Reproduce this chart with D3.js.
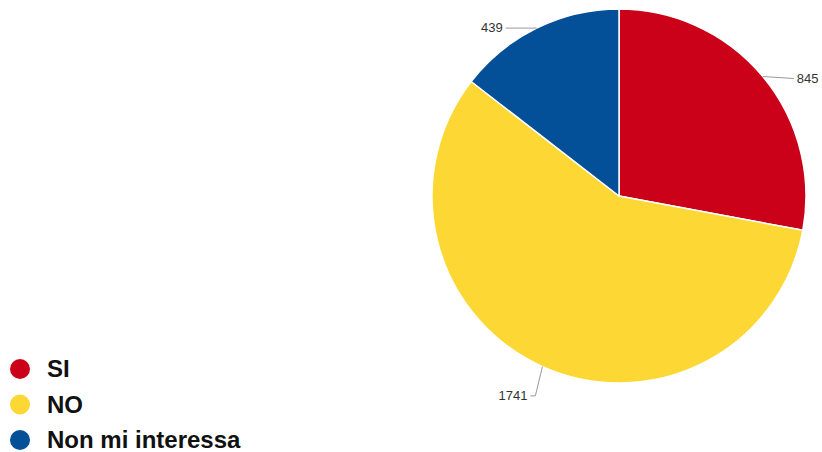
<!DOCTYPE html>
<html><head><meta charset="utf-8">
<script src="https://cdn.jsdelivr.net/npm/d3@7"></script>
<style>
html,body{margin:0;padding:0;background:#fff;}
svg{display:block;}
</style></head>
<body><svg id="c" width="822" height="452"></svg>
<script>
const categories = ["SI", "NO", "Non mi interessa"];
const values = [845, 1741, 439];
const colors = ["#CB0019", "#FDD835", "#034F98"];

const W = 822, H = 452;
const svg = d3.select("#c");
const cx = 619, cy = 196, r = 187;

const data = categories.map((c, i) => ({cat: c, value: values[i], color: colors[i]}));
const pie = d3.pie().value(d => d.value).sort(null);
const arcs = pie(data);
const arc = d3.arc().innerRadius(0).outerRadius(r);

const g = svg.append("g").attr("transform", `translate(${cx},${cy})`);
g.selectAll("path.slice").data(arcs).join("path")
  .attr("class", "slice")
  .attr("d", arc)
  .attr("fill", d => d.data.color)
  .attr("stroke", "#fff")
  .attr("stroke-width", 1.5)
  .attr("stroke-linejoin", "round");

// label lines
arcs.forEach(a => {
  const m = (a.startAngle + a.endAngle) / 2;
  const sx = Math.sin(m), cyy = -Math.cos(m);
  const p0 = [r * sx, r * cyy];
  const lower = cyy > 0.5;
  const ext = lower ? 32 : 0;
  const p1 = [(r + ext) * sx + (lower ? 6 : 0), (r + ext) * cyy];
  const side = sx >= 0 ? 1 : -1;
  const hl = lower ? 5 : 31;
  const p2 = [p1[0] + side * hl, p1[1] + (side > 0 && !lower ? 2 : 0)];
  g.append("polyline")
    .attr("points", [p0, p1, p2].map(p => p.join(",")).join(" "))
    .attr("fill", "none")
    .attr("stroke", "#999")
    .attr("stroke-width", 1);
  g.append("text")
    .attr("x", p2[0] + side * 3)
    .attr("y", p2[1])
    .attr("dy", "0.32em")
    .attr("text-anchor", side > 0 ? "start" : "end")
    .attr("font-family", "Liberation Sans, Arial, sans-serif")
    .attr("font-size", 13)
    .attr("fill", "#333")
    .text(d3.format("d")(a.data.value));
});

// legend
const lg = svg.append("g").attr("transform", "translate(20,369)");
const item = lg.selectAll("g").data(data).join("g")
  .attr("transform", (d, i) => `translate(0,${i * 35.5})`);
item.append("circle").attr("r", 10).attr("fill", d => d.color);
item.append("text")
  .attr("x", 27).attr("y", 0).attr("dy", "0.35em")
  .attr("font-family", "Liberation Sans, Arial, sans-serif")
  .attr("font-weight", "bold")
  .attr("font-size", 24)
  .attr("fill", "#111")
  .text(d => d.cat);
</script></body></html>
